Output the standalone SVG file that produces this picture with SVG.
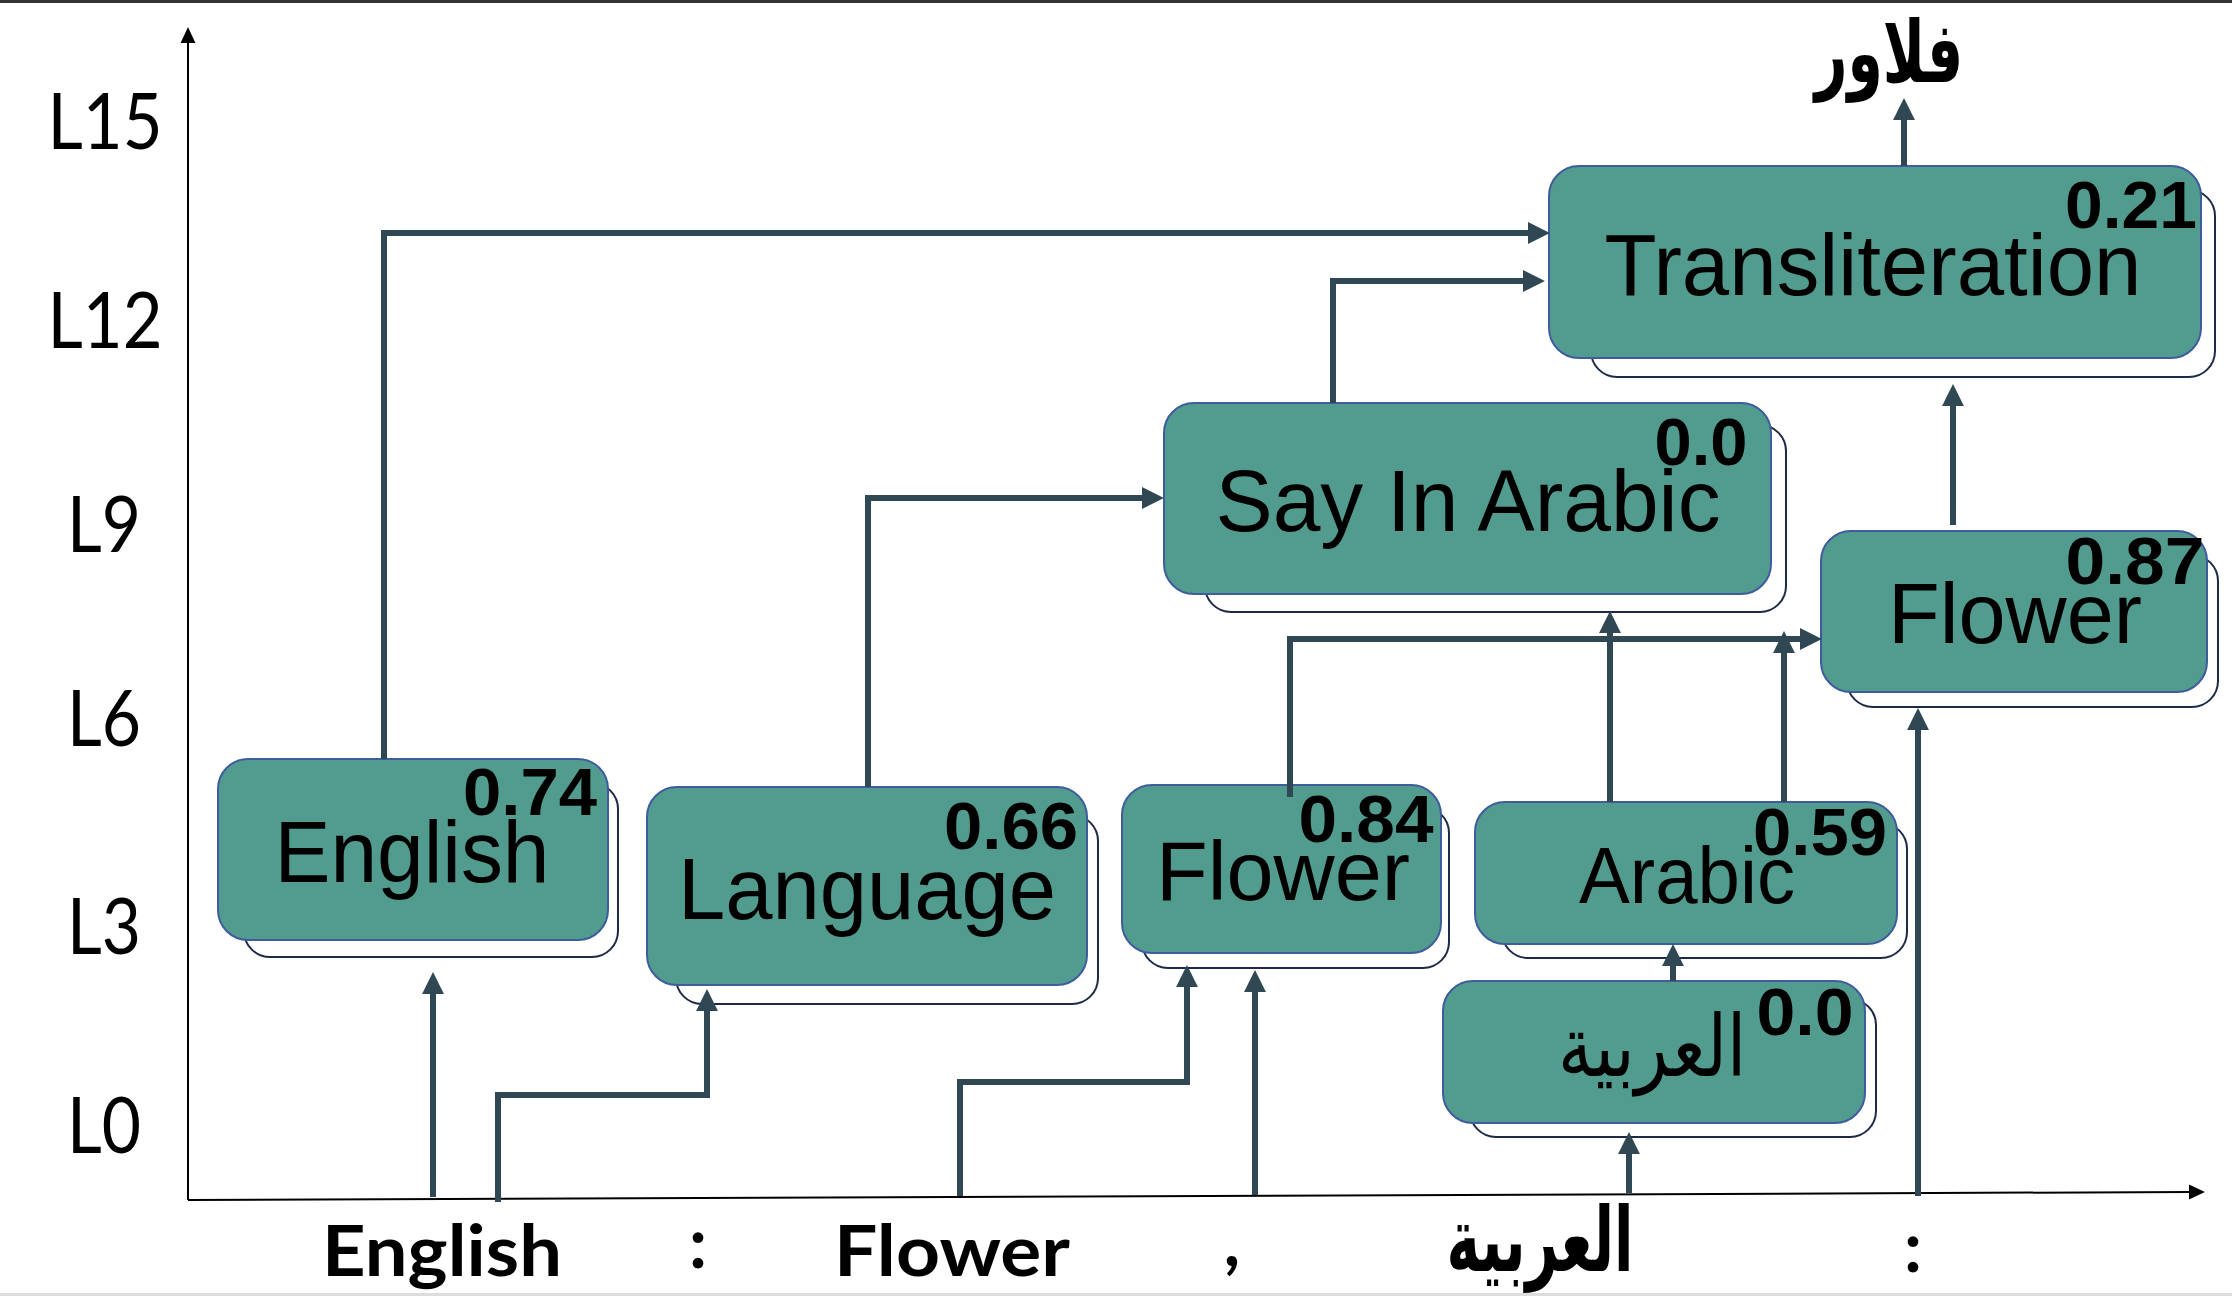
<svg xmlns="http://www.w3.org/2000/svg" width="2232" height="1296" viewBox="0 0 2232 1296">
<style>
.box{fill:#529B8F;stroke:#3E5C9E;stroke-width:2}
.shadow{fill:#fff;stroke:#1E2A48;stroke-width:2}
.lbl{font-family:"Liberation Sans",Arial,sans-serif;fill:#000;text-anchor:middle}
.score{font-family:"Liberation Sans",Arial,sans-serif;font-weight:bold;font-size:66px;fill:#000;text-anchor:middle}
.lvl{font-family:Lato,"Liberation Sans",sans-serif;font-size:78px;fill:#000;text-anchor:middle}
.tok{font-family:Lato,"Liberation Sans",sans-serif;font-weight:bold;font-size:70px;fill:#000;text-anchor:middle}
.ar{font-family:"DejaVu Sans",sans-serif;fill:#000;text-anchor:middle}
.conn{fill:none;stroke:#2F4854;stroke-width:6;stroke-linejoin:miter;stroke-linecap:butt}
.axis{fill:none;stroke:#000;stroke-width:2}
</style>
<defs>
<marker id="ah" markerUnits="userSpaceOnUse" markerWidth="22" markerHeight="22" viewBox="0 0 20 20" refX="1" refY="10" orient="auto">
<path d="M0,0 L20,10 L0,20 z" fill="#2F4854"/>
</marker>
<marker id="axh" markerUnits="userSpaceOnUse" markerWidth="16" markerHeight="16" viewBox="0 0 15 14" refX="1" refY="7" orient="auto">
<path d="M0,0 L15,7 L0,14 z" fill="#000"/>
</marker>
</defs>
<rect x="0" y="0" width="2232" height="3" fill="#333"/>
<rect x="0" y="1293" width="2232" height="3" fill="#ddd"/>
<g id="axes">
<path class="axis" d="M188,1200 V42" marker-end="url(#axh)"/>
<path class="axis" d="M188,1200 L2190,1192" marker-end="url(#axh)"/>
</g>
<g id="levels">
<text class="lvl" x="105" y="149" textLength="115" lengthAdjust="spacingAndGlyphs">L15</text>
<text class="lvl" x="105" y="348" textLength="115" lengthAdjust="spacingAndGlyphs">L12</text>
<text class="lvl" x="104" y="552" textLength="74" lengthAdjust="spacingAndGlyphs">L9</text>
<text class="lvl" x="104" y="746" textLength="74" lengthAdjust="spacingAndGlyphs">L6</text>
<text class="lvl" x="104" y="954" textLength="74" lengthAdjust="spacingAndGlyphs">L3</text>
<text class="lvl" x="104" y="1153" textLength="74" lengthAdjust="spacingAndGlyphs">L0</text>
</g>
<g id="tokens">
<text class="tok" x="442" y="1276" textLength="240" lengthAdjust="spacingAndGlyphs">English</text>
<text class="tok" x="698" y="1268">:</text>
<text class="tok" x="952" y="1276" textLength="236" lengthAdjust="spacingAndGlyphs">Flower</text>
<text class="tok" x="1232" y="1266">,</text>
<text class="ar" transform="translate(1540,1271) scale(0.63,1)" font-size="90" font-weight="bold">العربية</text>
<text class="tok" x="1913" y="1272">:</text>
</g>
<g id="node-english">
<rect class="shadow" x="244" y="783" width="374" height="174" rx="26"/>
<rect class="box" x="218" y="759" width="390" height="181" rx="30"/>
<text class="lbl" x="412" y="882" font-size="88" textLength="275" lengthAdjust="spacingAndGlyphs">English</text>
<text class="score" x="530" y="815" textLength="134" lengthAdjust="spacingAndGlyphs">0.74</text>
</g>
<g id="node-language">
<rect class="shadow" x="676" y="815" width="422" height="189" rx="26"/>
<rect class="box" x="647" y="787" width="440" height="198" rx="30"/>
<text class="lbl" x="867" y="919" font-size="88" textLength="378" lengthAdjust="spacingAndGlyphs">Language</text>
<text class="score" x="1011" y="849" textLength="134" lengthAdjust="spacingAndGlyphs">0.66</text>
</g>
<g id="node-flower1">
<rect class="shadow" x="1142" y="807" width="307" height="161" rx="26"/>
<rect class="box" x="1122" y="785" width="319" height="168" rx="30"/>
<text class="lbl" x="1283" y="900" font-size="84" textLength="254" lengthAdjust="spacingAndGlyphs">Flower</text>
<text class="score" x="1366" y="842" textLength="135" lengthAdjust="spacingAndGlyphs">0.84</text>
</g>
<g id="node-arabic">
<rect class="shadow" x="1502" y="823" width="405" height="135" rx="26"/>
<rect class="box" x="1475" y="802" width="422" height="142" rx="30"/>
<text class="lbl" x="1687" y="903" font-size="80" textLength="216" lengthAdjust="spacingAndGlyphs">Arabic</text>
<text class="score" x="1820" y="855" textLength="134" lengthAdjust="spacingAndGlyphs">0.59</text>
</g>
<g id="node-arabic-word">
<rect class="shadow" x="1470" y="999" width="406" height="138" rx="26"/>
<rect class="box" x="1443" y="981" width="422" height="142" rx="30"/>
<text class="ar" transform="translate(1652,1076) scale(0.81,1)" font-size="85">العربية</text>
<text class="score" x="1805" y="1035" textLength="97" lengthAdjust="spacingAndGlyphs">0.0</text>
</g>
<g id="node-flower2">
<rect class="shadow" x="1847" y="555" width="371" height="152" rx="26"/>
<rect class="box" x="1821" y="531" width="386" height="161" rx="30"/>
<text class="lbl" x="2015" y="643" font-size="85" textLength="254" lengthAdjust="spacingAndGlyphs">Flower</text>
<text class="score" x="2135" y="584" textLength="139" lengthAdjust="spacingAndGlyphs">0.87</text>
</g>
<g id="node-say-in-arabic">
<rect class="shadow" x="1205" y="425" width="581" height="187" rx="26"/>
<rect class="box" x="1164" y="403" width="607" height="191" rx="30"/>
<text class="lbl" x="1468" y="531" font-size="87" textLength="505" lengthAdjust="spacingAndGlyphs">Say In Arabic</text>
<text class="score" x="1701" y="465" textLength="93" lengthAdjust="spacingAndGlyphs">0.0</text>
</g>
<g id="node-transliteration">
<rect class="shadow" x="1591" y="190" width="624" height="187" rx="26"/>
<rect class="box" x="1549" y="166" width="652" height="192" rx="30"/>
<text class="lbl" x="1873" y="295" font-size="87" textLength="537" lengthAdjust="spacingAndGlyphs">Transliteration</text>
<text class="score" x="2131" y="228" textLength="132" lengthAdjust="spacingAndGlyphs">0.21</text>
</g>
<g id="output">
<text class="ar" transform="translate(1889,82) scale(0.67,1)" font-size="85" font-weight="bold">فلاور</text>
</g>
<g id="connectors">
<path class="conn" d="M384,759 V233 H1529" marker-end="url(#ah)"/>
<path class="conn" d="M1333,403 V281 H1524" marker-end="url(#ah)"/>
<path class="conn" d="M868,787 V498 H1143" marker-end="url(#ah)"/>
<path class="conn" d="M1290,797 V639 H1801" marker-end="url(#ah)"/>
<path class="conn" d="M1610,802 V632" marker-end="url(#ah)"/>
<path class="conn" d="M1784,802 V652" marker-end="url(#ah)"/>
<path class="conn" d="M1918,1196 V729" marker-end="url(#ah)"/>
<path class="conn" d="M1953,525 V405" marker-end="url(#ah)"/>
<path class="conn" d="M433,1197 V993" marker-end="url(#ah)"/>
<path class="conn" d="M498,1202 V1095 H707 V1010" marker-end="url(#ah)"/>
<path class="conn" d="M960,1196 V1082 H1187 V986" marker-end="url(#ah)"/>
<path class="conn" d="M1255,1195 V991" marker-end="url(#ah)"/>
<path class="conn" d="M1629,1193 V1153" marker-end="url(#ah)"/>
<path class="conn" d="M1673,981 V965" marker-end="url(#ah)"/>
<path class="conn" d="M1904,166 V119" marker-end="url(#ah)"/>
</g>
</svg>
